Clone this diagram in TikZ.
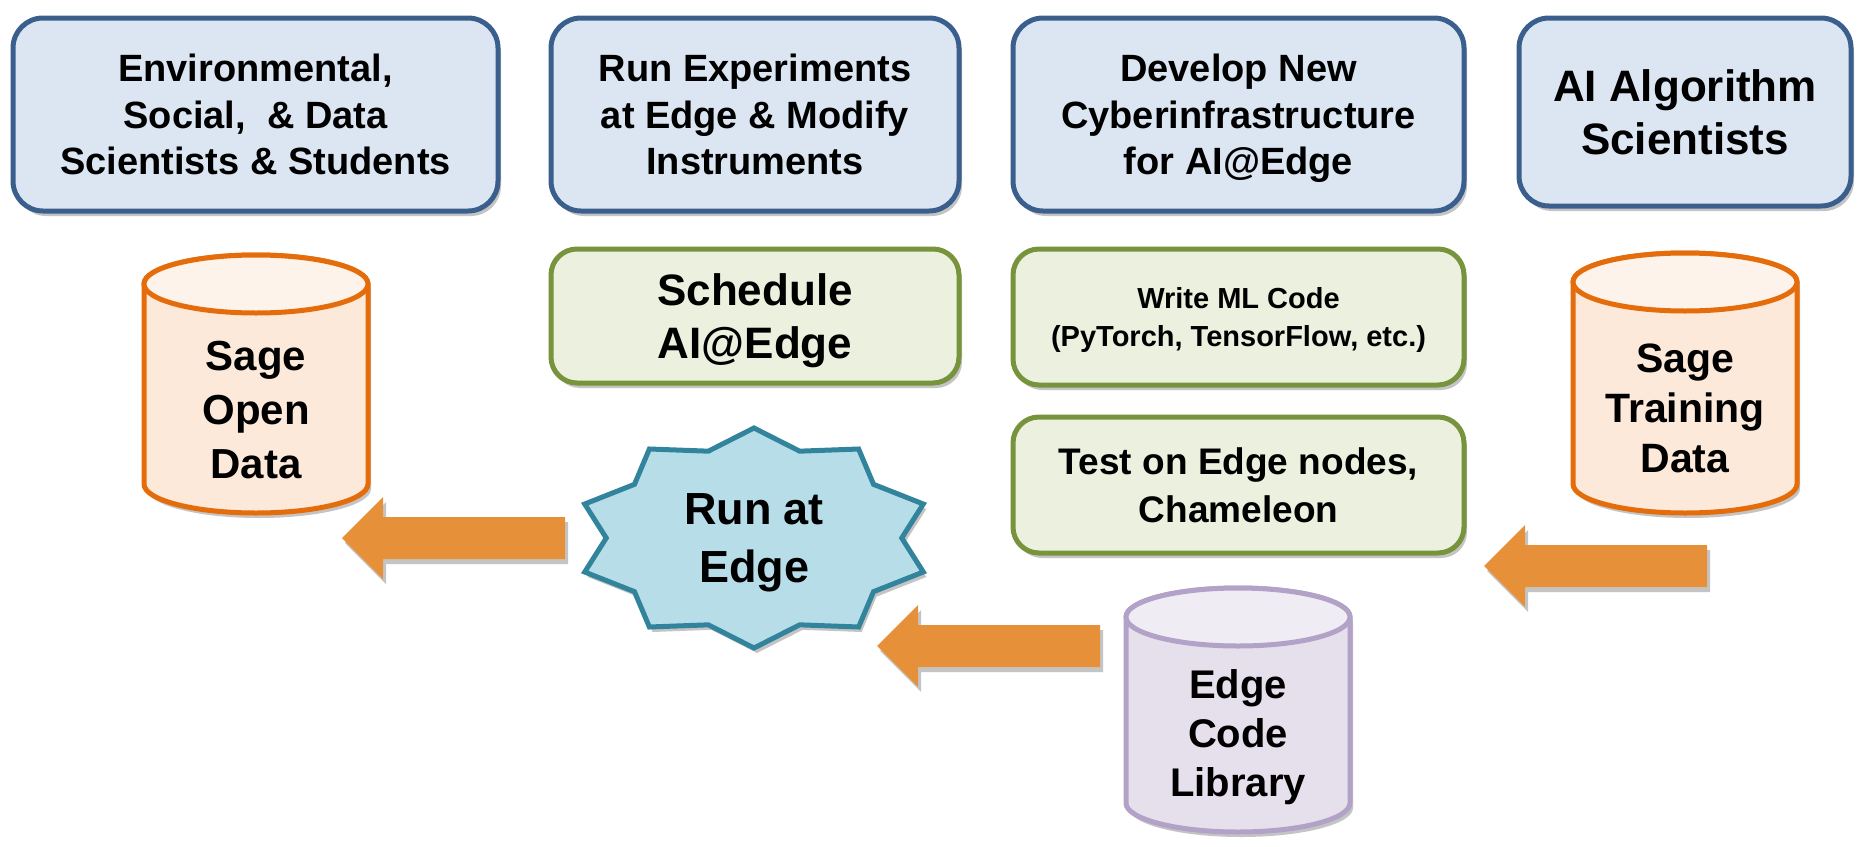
\documentclass[tikz,border=0pt]{standalone}
\usepackage{fontspec}
\setmainfont{Liberation Sans}
\usetikzlibrary{shadows}
\definecolor{bluefill}{HTML}{DCE6F2}
\definecolor{blueborder}{HTML}{3A5F8D}
\definecolor{greenfill}{HTML}{EBF1DE}
\definecolor{greenborder}{HTML}{77933C}
\definecolor{starfill}{HTML}{B7DDE8}
\definecolor{starborder}{HTML}{31849B}
\definecolor{orangebody}{HTML}{FDE9D9}
\definecolor{orangetop}{HTML}{FEF3EB}
\definecolor{orangeborder}{HTML}{E46C0A}
\definecolor{purplebody}{HTML}{E5E0EC}
\definecolor{purpletop}{HTML}{EFECF4}
\definecolor{purpleborder}{HTML}{B3A2C7}
\definecolor{arrowfill}{HTML}{E6913A}
\newcommand\fsz[2]{\bfseries\fontsize{#1}{#2}\selectfont}
\newcommand\cylshape[6]{%
  \pgfmathsetmacro\cylL{#1-112}%
  \pgfmathsetmacro\cylR{#1+112}%
  \pgfmathsetmacro\cylT{#2+29}%
  \pgfmathsetmacro\cylB{#3-29}%
  \draw[line width=5pt, draw=#6, fill=#4, softshadow]
    (\cylL,\cylT) -- (\cylL,\cylB)
    .. controls (\cylL,\cylB+16) and (#1-61.9,#3) .. (#1,#3)
    .. controls (#1+61.9,#3) and (\cylR,\cylB+16) .. (\cylR,\cylB)
    -- (\cylR,\cylT)
    .. controls (\cylR,\cylT-16) and (#1+61.9,#2) .. (#1,#2)
    .. controls (#1-61.9,#2) and (\cylL,\cylT-16) .. (\cylL,\cylT) -- cycle;
  \draw[line width=5pt, draw=#6, fill=#5] (#1,\cylT) ellipse [x radius=112, y radius=29];
}
\newcommand\fatarrow[2]{%
  \fill[arrowfill, softshadow] (#1,#2) -- ++(41,-41) -- ++(0,20) -- ++(182,0) -- ++(0,42)
    -- ++(-182,0) -- ++(0,20) -- cycle;
}
\begin{document}
\begin{tikzpicture}[x=1pt,y=-1pt,
  softshadow/.style={drop shadow={shadow xshift=3pt, shadow yshift=-5pt, opacity=0.33, fill=black!70}},
  box/.style={rounded corners=30pt, line width=5pt, align=center, text depth=0pt, inner sep=0pt, softshadow},
  bluebox/.style={box, fill=bluefill, draw=blueborder},
  greenbox/.style={box, rounded corners=26pt, fill=greenfill, draw=greenborder},
  label/.style={align=center, text depth=0pt, inner sep=0pt}]
\useasboundingbox (0,0) rectangle (1873,846);

% top row
\node[bluebox, minimum width=485pt, minimum height=193pt, font=\fsz{38}{46.5}] (sci) at (255.5,114.5)
  {Environmental,\\Social,~~\& Data\\Scientists \& Students};
\node[bluebox, minimum width=408pt, minimum height=193pt, font=\fsz{38}{46.5}] (exp) at (755,114.5)
  {Run Experiments\\at Edge \& Modify\\Instruments};
\node[bluebox, minimum width=451pt, minimum height=193pt, font=\fsz{38}{46.5}] (dev) at (1238.5,114.5)
  {Develop New\\Cyberinfrastructure\\for AI@Edge};
\node[bluebox, minimum width=332pt, minimum height=188pt, font=\fsz{44}{53.3}] (alg) at (1685,112)
  {AI Algorithm\\Scientists};

% green boxes
\node[greenbox, minimum width=408pt, minimum height=134pt, font=\fsz{44}{53}] (sched) at (755,316)
  {Schedule\\AI@Edge};
\node[greenbox, minimum width=451pt, minimum height=136pt, font=\fsz{29}{38.5}] (ml) at (1238.5,317)
  {Write ML Code\\(PyTorch, TensorFlow, etc.)};
\node[greenbox, minimum width=451pt, minimum height=136pt, font=\fsz{37}{48}] (test) at (1238.5,485)
  {Test on Edge nodes,\\Chameleon};

% cylinders
\cylshape{256}{255}{513}{orangebody}{orangetop}{orangeborder}
\node[label, font=\fsz{42}{54}] (open) at (256,410) {Sage\\Open\\Data};
\cylshape{1685}{253}{513}{orangebody}{orangetop}{orangeborder}
\node[label, font=\fsz{41}{50}] (train) at (1685,408) {Sage\\Training\\Data};
\cylshape{1238}{588}{832}{purplebody}{purpletop}{purpleborder}
\node[label, font=\fsz{40}{49}] (lib) at (1238,733) {Edge\\Code\\Library};

% star
\draw[line width=5pt, draw=starborder, fill=starfill, line join=miter, softshadow]
  plot[samples at={0,...,19}, variable=\k]
  ({754+178*(1-0.17*mod(\k,2))*cos(90+18*\k)}, {538-110*(1-0.17*mod(\k,2))*sin(90+18*\k)}) -- cycle;
\node[label, font=\fsz{45}{58}] (run) at (754,538) {Run at\\Edge};

% block arrows
\fatarrow{342}{538}
\fatarrow{877}{646}
\fatarrow{1484}{566}
\end{tikzpicture}
\end{document}
